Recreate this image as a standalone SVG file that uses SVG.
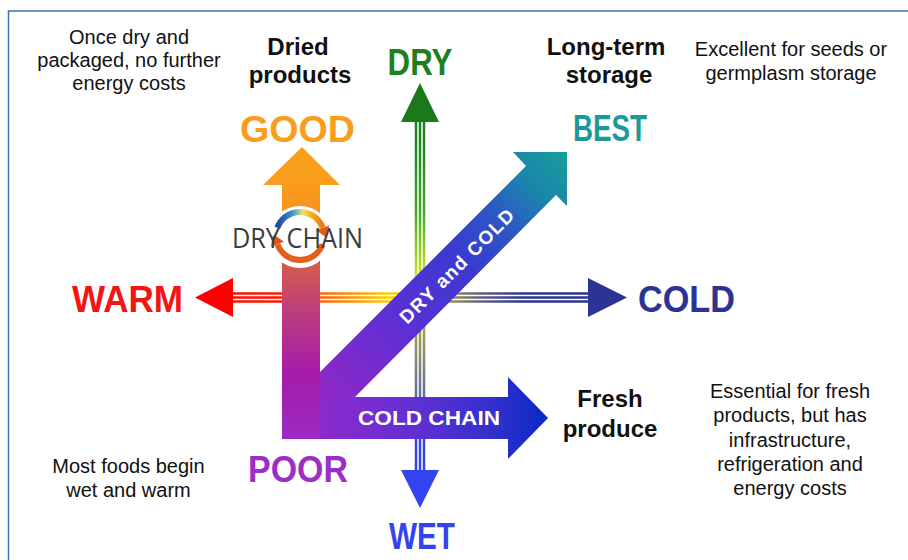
<svg xmlns="http://www.w3.org/2000/svg" width="908" height="560" viewBox="0 0 908 560">
<defs>
  <style>
    .note{font-family:"Liberation Sans",Arial,sans-serif;font-size:20px;fill:#111;text-anchor:middle}
    .head{font-family:"Liberation Sans",Arial,sans-serif;font-size:24px;font-weight:bold;fill:#111;text-anchor:middle}
    .axis{font-family:"Liberation Sans",Arial,sans-serif;font-size:37px;font-weight:bold;text-anchor:middle}
    .inarrow{font-family:"Liberation Sans",Arial,sans-serif;font-weight:bold;fill:#fff;text-anchor:middle}
    .hl{fill:none;stroke:url(#gH);stroke-width:2.5}
    .vl{fill:none;stroke:url(#gV);stroke-width:2.5}
  </style>
  <linearGradient id="gH" gradientUnits="userSpaceOnUse" x1="195" y1="0" x2="627" y2="0">
    <stop offset="0" stop-color="#ff0000"/>
    <stop offset="0.2" stop-color="#ff1a00"/>
    <stop offset="0.33" stop-color="#ff7a00"/>
    <stop offset="0.45" stop-color="#ffd000"/>
    <stop offset="0.55" stop-color="#b8b030"/>
    <stop offset="0.66" stop-color="#606080"/>
    <stop offset="0.76" stop-color="#2b3494"/>
    <stop offset="1" stop-color="#2b3494"/>
  </linearGradient>
  <linearGradient id="gV" gradientUnits="userSpaceOnUse" x1="0" y1="83" x2="0" y2="508">
    <stop offset="0" stop-color="#1a7a1a"/>
    <stop offset="0.15" stop-color="#1f861f"/>
    <stop offset="0.3" stop-color="#40a828"/>
    <stop offset="0.45" stop-color="#c8e41a"/>
    <stop offset="0.6" stop-color="#9a9a50"/>
    <stop offset="0.74" stop-color="#6068a8"/>
    <stop offset="0.85" stop-color="#3344ee"/>
    <stop offset="1" stop-color="#3344ee"/>
  </linearGradient>
  <linearGradient id="gL" gradientUnits="userSpaceOnUse" x1="0" y1="185" x2="0" y2="439">
    <stop offset="0" stop-color="#f99d1c"/>
    <stop offset="0.12" stop-color="#f59020"/>
    <stop offset="0.3" stop-color="#d65c4c"/>
    <stop offset="0.52" stop-color="#ba3a82"/>
    <stop offset="0.74" stop-color="#a51ca8"/>
    <stop offset="1" stop-color="#9a2ac4"/>
  </linearGradient>
  <linearGradient id="gB" gradientUnits="userSpaceOnUse" x1="282" y1="0" x2="548" y2="0">
    <stop offset="0" stop-color="#9a2ac4"/>
    <stop offset="0.3" stop-color="#7a2cd0"/>
    <stop offset="0.55" stop-color="#5a30d0"/>
    <stop offset="0.8" stop-color="#3030cc"/>
    <stop offset="1" stop-color="#0a28c6"/>
  </linearGradient>
  <linearGradient id="gD" gradientUnits="userSpaceOnUse" x1="330" y1="390" x2="567" y2="152">
    <stop offset="0" stop-color="#8c28c8"/>
    <stop offset="0.3" stop-color="#5a30d4"/>
    <stop offset="0.55" stop-color="#3a3ad0"/>
    <stop offset="0.72" stop-color="#2c58c4"/>
    <stop offset="0.85" stop-color="#1c84ac"/>
    <stop offset="1" stop-color="#16a098"/>
  </linearGradient>
  <linearGradient id="gArc" gradientUnits="userSpaceOnUse" x1="276" y1="0" x2="330" y2="0">
    <stop offset="0" stop-color="#1c3f9e"/>
    <stop offset="0.3" stop-color="#3a8fd0"/>
    <stop offset="0.5" stop-color="#f0e070"/>
    <stop offset="0.65" stop-color="#f5b020"/>
    <stop offset="1" stop-color="#e35a10"/>
  </linearGradient>
</defs>

<rect x="0" y="0" width="908" height="560" fill="#fff"/>
<path d="M8.5 560 V11 H908" fill="none" stroke="#3a72b2" stroke-width="1.5"/>

<g id="connectors">
  <g id="axis-warm-cold">
    <line class="hl" x1="230" y1="293.5" x2="590" y2="293.5"/>
    <line class="hl" x1="230" y1="297.5" x2="590" y2="297.5"/>
    <line class="hl" x1="230" y1="301.5" x2="590" y2="301.5"/>
    <polygon points="195,297.5 233,278 233,317" fill="#ff0000"/>
    <polygon points="588,278 627,297.5 588,317" fill="#2b3494"/>
  </g>
  <g id="axis-dry-wet">
    <line class="vl" x1="416" y1="120" x2="416" y2="472"/>
    <line class="vl" x1="420" y1="120" x2="420" y2="472"/>
    <line class="vl" x1="424" y1="120" x2="424" y2="472"/>
    <polygon points="420,83 401,122 439,122" fill="#1a7a1a"/>
    <polygon points="401,470 439,470 420,508" fill="#3344ee"/>
  </g>
</g>

<g id="dry-and-cold">
  <polygon points="320,372 526,166 513,152 567,152 567,206 556,195 355,397 320,397" fill="url(#gD)"/>
  <text class="inarrow" transform="translate(456.5,266) rotate(-45)" x="0" y="7" font-size="19" textLength="153" lengthAdjust="spacing">DRY and COLD</text>
</g>

<g id="dry-chain">
  <polygon points="263,185 302,147 340,185 320,185 320,439 282,439 282,185" fill="url(#gL)"/>
</g>

<g id="cold-chain">
  <polygon points="320,397 508,397 508,377 548,418 508,459 508,439 320,439" fill="url(#gB)"/>
  <text class="inarrow" x="429" y="425" font-size="21" textLength="142" lengthAdjust="spacingAndGlyphs">COLD  CHAIN</text>
</g>

<g id="dry-chain-logo">
  <circle cx="300" cy="237" r="31" fill="#fff"/>
  <path d="M277.4 227.8 A24 24 0 0 1 322.6 227.8" fill="none" stroke="url(#gArc)" stroke-width="6"/>
  <polygon points="329.2,225.4 316,230.2 326,237.2" fill="#e35a10"/>
  <path d="M322.6 244.2 A24 24 0 0 1 277.4 244.2" fill="none" stroke="#e4601a" stroke-width="6"/>
  <polygon points="270.8,246.6 284,241.8 274,234.8" fill="#e0561a"/>
  <text x="297.5" y="248" font-family="'Open Sans','Liberation Sans',sans-serif" font-size="27" fill="#3d3d3d" text-anchor="middle" textLength="131" lengthAdjust="spacingAndGlyphs">DRY CHAIN</text>
</g>

<g id="label-dry"><text class="axis" x="420" y="75" fill="#1f7f1f" textLength="65" lengthAdjust="spacingAndGlyphs">DRY</text></g>
<g id="label-good"><text class="axis" x="297.5" y="142" fill="#f99d1c" textLength="115" lengthAdjust="spacingAndGlyphs">GOOD</text></g>
<g id="label-best"><text class="axis" x="610" y="141" fill="#1a9b98" textLength="74" lengthAdjust="spacingAndGlyphs">BEST</text></g>
<g id="label-warm"><text class="axis" x="127.5" y="312" fill="#f41414" textLength="111" lengthAdjust="spacingAndGlyphs">WARM</text></g>
<g id="label-cold"><text class="axis" x="686.5" y="312" fill="#2b3494" textLength="97" lengthAdjust="spacingAndGlyphs">COLD</text></g>
<g id="label-poor"><text class="axis" x="298" y="482" fill="#9a2fc6" textLength="100" lengthAdjust="spacingAndGlyphs">POOR</text></g>
<g id="label-wet"><text class="axis" x="422" y="549" fill="#3344ee" textLength="66" lengthAdjust="spacingAndGlyphs">WET</text></g>

<g id="dried-products">
  <text class="head" x="298" y="55">Dried</text>
  <text class="head" x="300" y="83">products</text>
</g>
<g id="long-term-storage">
  <text class="head" x="606" y="55">Long-term</text>
  <text class="head" x="609" y="83">storage</text>
</g>
<g id="fresh-produce">
  <text class="head" x="610" y="407">Fresh</text>
  <text class="head" x="610" y="437">produce</text>
</g>

<g id="note-dry">
  <text class="note" x="129" y="44">Once dry and</text>
  <text class="note" x="129" y="67">packaged, no further</text>
  <text class="note" x="129" y="90">energy costs</text>
</g>
<g id="note-best">
  <text class="note" x="791" y="56">Excellent for seeds or</text>
  <text class="note" x="791" y="80">germplasm storage</text>
</g>
<g id="note-fresh">
  <text class="note" x="790" y="398">Essential for fresh</text>
  <text class="note" x="790" y="422">products, but has</text>
  <text class="note" x="790" y="447">infrastructure,</text>
  <text class="note" x="790" y="471">refrigeration and</text>
  <text class="note" x="790" y="495">energy costs</text>
</g>
<g id="note-poor">
  <text class="note" x="128.5" y="473">Most foods begin</text>
  <text class="note" x="128.5" y="497">wet and warm</text>
</g>
</svg>
